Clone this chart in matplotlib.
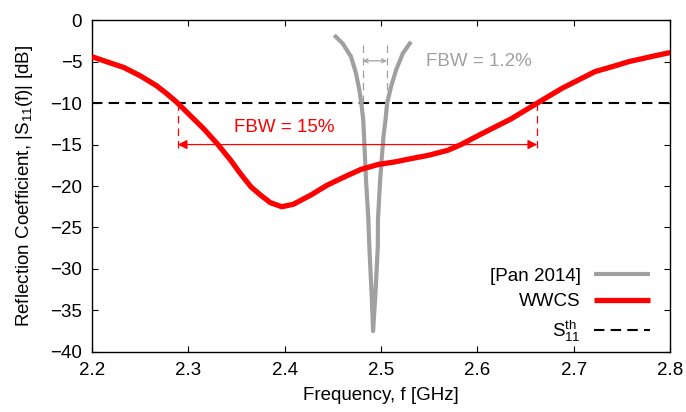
import matplotlib
matplotlib.use('Agg')
import numpy as np
from matplotlib import pyplot as plt

plt.rcParams['font.family'] = ['Liberation Sans', 'DejaVu Sans']
plt.rcParams['mathtext.fontset'] = 'custom'
plt.rcParams['mathtext.rm'] = 'Liberation Sans'
plt.rcParams['mathtext.it'] = 'Liberation Sans'

# measured |S11| of the WWCS antenna
wwcs_f = [2.200, 2.215, 2.233, 2.250, 2.267, 2.278, 2.289, 2.302, 2.316, 2.330,
          2.344, 2.354, 2.365, 2.375, 2.385, 2.397, 2.409, 2.427, 2.444, 2.462,
          2.479, 2.497, 2.514, 2.531, 2.549, 2.569, 2.583, 2.601, 2.618, 2.635,
          2.662, 2.675, 2.688, 2.705, 2.722, 2.740, 2.757, 2.780, 2.800]
wwcs_s11 = [-4.4, -5.0, -5.7, -6.7, -7.9, -8.9, -10.0, -11.5, -13.1, -14.9,
            -16.9, -18.5, -20.1, -21.1, -22.0, -22.5, -22.2, -21.1, -19.9, -18.9,
            -18.0, -17.4, -17.1, -16.7, -16.3, -15.7, -15.0, -13.9, -12.9, -11.9,
            -10.0, -9.1, -8.2, -7.2, -6.2, -5.6, -5.0, -4.4, -3.9]

# reference antenna [Pan 2014]
pan_f = [2.4514, 2.4601, 2.4688, 2.4740, 2.4774, 2.4795, 2.4815, 2.4844, 2.4868,
         2.4878, 2.4903, 2.4917, 2.4940, 2.4966, 2.4968, 2.4990, 2.5025, 2.5046,
         2.5063, 2.5104, 2.5156, 2.5226, 2.5310]
pan_s11 = [-1.8, -2.8, -4.4, -6.4, -8.4, -10.0, -12.0, -19.3, -24.0,
           -27.3, -33.3, -37.5, -33.3, -27.3, -24.0, -19.3, -14.0, -12.0,
           -10.0, -8.0, -6.0, -4.0, -2.6]

s11_th = -10
wwcs_band = (2.289, 2.662)
pan_band = (2.481, 2.506)

fs = 13.5
fig, ax = plt.subplots(figsize=(6.86, 4.12), dpi=100)
fig.subplots_adjust(left=0.134, right=0.977, bottom=0.146, top=0.951)

red = '#ff0000'
grey = '#a0a0a0'

ax.plot(pan_f, pan_s11, color=grey, lw=3.0, label='[Pan 2014]', zorder=3,
        solid_joinstyle='round', solid_capstyle='butt')
ax.plot(wwcs_f, wwcs_s11, color=red, lw=3.8, label='WWCS', zorder=4,
        solid_joinstyle='round', solid_capstyle='butt')
ax.axhline(s11_th, color='black', lw=1.5, ls=(0, (5, 3)),
           label=r'$\mathregular{S_{11}^{th}}$', zorder=2)

# bandwidth markers, WWCS
for f in wwcs_band:
    ax.plot([f, f], [s11_th, -15.6], color=red, lw=0.9, ls=(0, (6, 4)))
ax.annotate('', xy=(wwcs_band[0], -15), xytext=(wwcs_band[1], -15),
            arrowprops=dict(arrowstyle='<|-|>', color=red, lw=0.9,
                            mutation_scale=14, shrinkA=0, shrinkB=0))
ax.text(2.4, -12.9, 'FBW = 15%', color=red, fontsize=fs,
        ha='center', va='center')

# bandwidth markers, [Pan 2014]
for f in pan_band:
    ax.plot([f, f], [-3.0, s11_th], color=grey, lw=0.9, ls=(0, (6, 4)))
ax.annotate('', xy=(pan_band[0], -4.9), xytext=(pan_band[1], -4.9),
            arrowprops=dict(arrowstyle='<->', color=grey, lw=0.9,
                            mutation_scale=7, shrinkA=0, shrinkB=0))
ax.text(2.6016, -5.0, 'FBW = 1.2%', color=grey, fontsize=fs,
        ha='center', va='center')

ax.set_xlim(2.2, 2.8)
ax.set_ylim(-40, 0)
ax.set_xticks(np.arange(2.2, 2.81, 0.1))
ax.set_yticks(np.arange(-40, 1, 5))
ax.xaxis.set_major_formatter(matplotlib.ticker.FormatStrFormatter('%.1f'))
ax.tick_params(direction='in', top=True, right=True, length=4.5, labelsize=fs,
               width=0.8, pad=7)
for s in ax.spines.values():
    s.set_linewidth(1.0)

ax.set_xlabel('Frequency, f [GHz]', fontsize=fs, labelpad=6)
ax.set_ylabel(r'Reflection Coefficient, |S$_{\mathregular{11}}$(f)| [dB]', fontsize=fs,
              labelpad=11)

ax.legend(loc='lower right', frameon=False, markerfirst=False, fontsize=fs,
          handlelength=3.0, labelspacing=0.45, handletextpad=0.7,
          bbox_to_anchor=(0.985, -0.01), borderaxespad=0.2)

fig.savefig('out.png', dpi=100)
